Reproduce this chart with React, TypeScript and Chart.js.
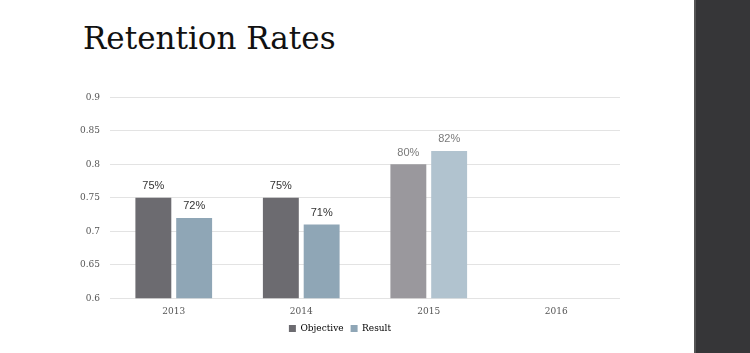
import React, { useEffect, useRef } from "react";
import { Chart, registerables } from "chart.js";

Chart.register(...registerables);

const categories = ["2013", "2014", "2015", "2016"];
const objective = [0.75, 0.75, 0.8, null];
const result = [0.72, 0.71, 0.82, null];
const objectiveLabels = ["75%", "75%", "80%", ""];
const resultLabels = ["72%", "71%", "82%", ""];
const objectiveColors = ["#6c6b70", "#6c6b70", "#9a989d", "#9a989d"];
const resultColors = ["#8fa6b6", "#8fa6b6", "#b1c3cf", "#b1c3cf"];
const labelColors = ["#333333", "#333333", "#7a7a7a", "#7a7a7a"];

const valueLabelPlugin = {
  id: "valueLabels",
  afterDatasetsDraw(chart: any) {
    const ctx = chart.ctx;
    const texts = [objectiveLabels, resultLabels];
    ctx.save();
    ctx.font = "11px 'Liberation Sans', Arial, sans-serif";
    ctx.textAlign = "center";
    ctx.textBaseline = "bottom";
    chart.data.datasets.forEach((ds: any, di: number) => {
      const meta = chart.getDatasetMeta(di);
      meta.data.forEach((bar: any, i: number) => {
        if (ds.data[i] == null) return;
        ctx.fillStyle = labelColors[i];
        ctx.fillText(texts[di][i], bar.x, bar.y - 6);
      });
    });
    ctx.restore();
  },
};

export default function App() {
  const ref = useRef<HTMLCanvasElement>(null);
  useEffect(() => {
    document.body.style.margin = "0";
    const chart = new Chart(ref.current!, {
      type: "bar",
      data: {
        labels: categories,
        datasets: [
          { label: "Objective", data: objective, backgroundColor: objectiveColors },
          { label: "Result", data: result, backgroundColor: resultColors },
        ],
      },
      options: {
        animation: false,
        responsive: false,
        maintainAspectRatio: false,
        layout: { padding: { top: 5, right: 0, left: 0, bottom: 0 } },
        datasets: {
          bar: { categoryPercentage: 0.64, barPercentage: 0.88 },
        } as any,
        plugins: {
          title: { display: false },
          tooltip: { enabled: false },
          legend: {
            position: "bottom",
            labels: {
              boxWidth: 7,
              boxHeight: 7,
              padding: 7,
              color: "#555",
              font: { family: "'DejaVu Serif', serif", size: 9 },
              generateLabels: () => [
                { text: "Objective", fillStyle: objectiveColors[0], strokeStyle: objectiveColors[0], lineWidth: 0, datasetIndex: 0 },
                { text: "Result", fillStyle: resultColors[0], strokeStyle: resultColors[0], lineWidth: 0, datasetIndex: 1 },
              ] as any,
            },
          },
        },
        scales: {
          x: {
            grid: { display: false },
            border: { display: false },
            ticks: { color: "#555", font: { family: "'DejaVu Serif', serif", size: 9 }, padding: 0 },
          },
          y: {
            min: 0.6,
            max: 0.9,
            afterFit: (s: any) => { s.width = 50; },
            border: { display: false },
            grid: { color: "#e3e3e3", lineWidth: 1, drawTicks: false },
            ticks: {
              stepSize: 0.05,
              padding: 10,
              color: "#555",
              font: { family: "'DejaVu Serif', serif", size: 9 },
              callback: (v: any) => String(parseFloat(Number(v).toFixed(2))),
            },
          },
        },
      },
      plugins: [valueLabelPlugin],
    });
    return () => chart.destroy();
  }, []);

  return (
    <div style={{ position: "relative", width: 750, height: 353, background: "#fff", overflow: "hidden" }}>
      <div
        style={{
          position: "absolute",
          left: 83,
          top: 18,
          fontFamily: "'DejaVu Serif', serif",
          fontSize: 31,
          color: "#111",
          lineHeight: "40px",
          whiteSpace: "nowrap",
        }}
      >
        Retention Rates
      </div>
      <canvas
        ref={ref}
        width={560}
        height={261}
        style={{ position: "absolute", left: 60, top: 82, width: 560, height: 261 }}
      />
      <div style={{ position: "absolute", left: 694, top: 0, width: 2, height: 353, background: "#555" }} />
      <div style={{ position: "absolute", left: 696, top: 0, width: 54, height: 353, background: "#363638" }} />
    </div>
  );
}
